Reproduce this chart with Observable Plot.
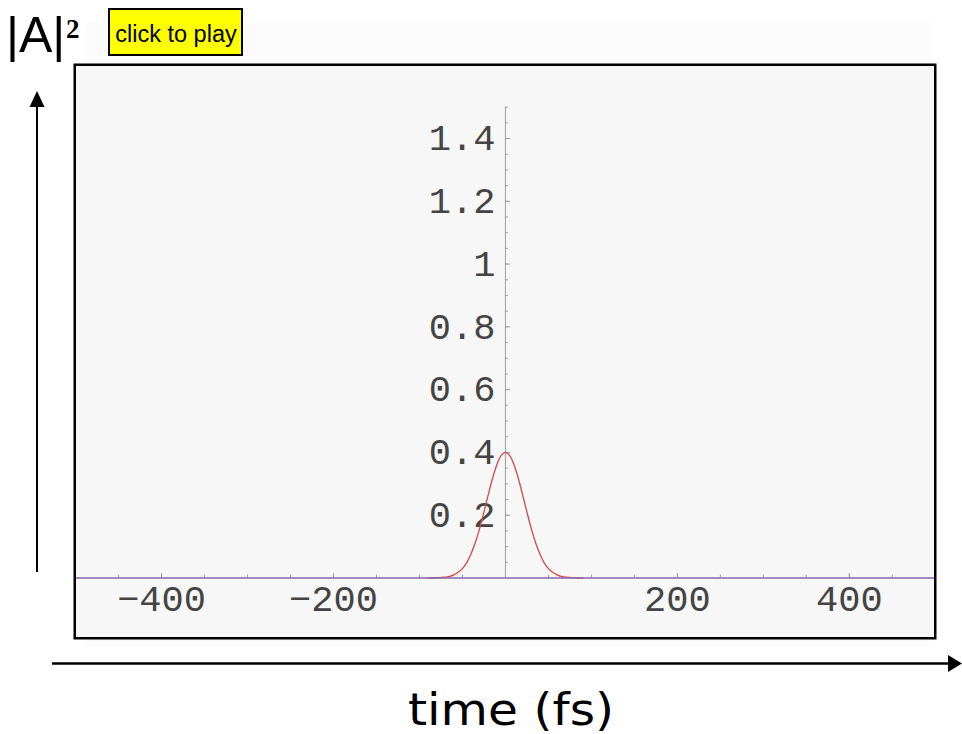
<!DOCTYPE html>
<html>
<head>
<meta charset="utf-8">
<script src="https://cdn.jsdelivr.net/npm/d3@7"></script>
<script src="https://cdn.jsdelivr.net/npm/@observablehq/plot@0.6"></script>
<style>
  body { margin: 0; background: #fff; }
  #stage { position: relative; width: 962px; height: 734px; overflow: hidden; }
  #stage svg { position: absolute; }
</style>
</head>
<body>
<div id="stage"></div>
<script>
// Pulse intensity |A|^2 against time (fs)
const timeFs = [-90, -80, -70, -65, -60, -55, -50, -45, -40, -35, -30, -25, -20, -15, -10, -5,
                0, 5, 10, 15, 20, 25, 30, 35, 40, 45, 50, 55, 60, 65, 70, 80, 90];
const intensity = [0, 0.0005, 0.0025, 0.005, 0.010, 0.018, 0.030, 0.049, 0.077, 0.113, 0.158, 0.210, 0.265, 0.317, 0.361, 0.390,
                   0.400, 0.390, 0.361, 0.317, 0.265, 0.210, 0.158, 0.113, 0.077, 0.049, 0.030, 0.018, 0.010, 0.005, 0.0025, 0.0005, 0];

// Axis labels
const xTickLabels = [-400, -200, 200, 400];
const yTickLabels = [0.2, 0.4, 0.6, 0.8, 1, 1.2, 1.4];
const yAxisTop = 1.5;

// Minor tick positions (every 50 fs and every 0.05)
const xMinorTicks = d3.range(-450, 451, 50).filter(d => d !== 0);
const yMinorTicks = d3.range(1, 31).map(i => i * 0.05);

const pulse = timeFs.map((t, i) => ({t, v: intensity[i]}));

const stage = document.getElementById("stage");

// Decorations around the plot: faint backdrop, axis arrows, titles, play button
const deco = d3.select(stage).append("svg")
  .attr("width", 962).attr("height", 734)
  .style("left", "0px").style("top", "0px");

deco.append("rect").attr("x", 85).attr("y", 23).attr("width", 848).attr("height", 624).attr("fill", "#fcfcfc");

// |A|^2 label
deco.append("text").attr("x", 6).attr("y", 52)
  .attr("font-family", "Liberation Sans, Arial, sans-serif").attr("font-size", 50).attr("fill", "#000")
  .text("|A|");
deco.append("text").attr("x", 66).attr("y", 38)
  .attr("font-family", "Liberation Serif, Times New Roman, serif").attr("font-weight", "bold")
  .attr("font-size", 27).attr("fill", "#000").text("2");

// play button
deco.append("rect").attr("x", 109).attr("y", 9).attr("width", 133).attr("height", 46)
  .attr("fill", "#ffff00").attr("stroke", "#000").attr("stroke-width", 2);
deco.append("text").attr("x", 176).attr("y", 42).attr("text-anchor", "middle")
  .attr("font-family", "Liberation Sans, Arial, sans-serif").attr("font-size", 23.5).attr("fill", "#000")
  .text("click to play");

// vertical arrow
deco.append("line").attr("x1", 37).attr("x2", 37).attr("y1", 572).attr("y2", 104)
  .attr("stroke", "#000").attr("stroke-width", 2);
deco.append("polygon").attr("points", "37,91 29.5,107 44.5,107").attr("fill", "#000");

// horizontal arrow
deco.append("line").attr("x1", 52).attr("x2", 950).attr("y1", 663.5).attr("y2", 663.5)
  .attr("stroke", "#000").attr("stroke-width", 2.5);
deco.append("polygon").attr("points", "962,663.5 948,655 948,672").attr("fill", "#000");

// horizontal axis title
deco.append("text").attr("x", 408).attr("y", 725)
  .attr("font-family", "DejaVu Sans, Verdana, sans-serif").attr("font-size", 44).attr("fill", "#000")
  .attr("textLength", 206).attr("lengthAdjust", "spacingAndGlyphs")
  .text("time (fs)");

const mono = "Liberation Mono, Courier New, monospace";
const fmtX = d => d < 0 ? "\u2212" + Math.abs(d) : String(d);

const chart = Plot.plot({
  width: 863,
  height: 576,
  marginLeft: 1.25, marginRight: 1.25, marginTop: 1.25, marginBottom: 1.25,
  x: {domain: [-501, 500], axis: null},
  y: {domain: [-0.192, 1.635], axis: null},
  style: {background: "#f7f7f7", overflow: "visible"},
  marks: [
    // vertical axis through t = 0
    Plot.ruleX([0], {y1: 0, y2: yAxisTop, stroke: "#a0a0a0", strokeWidth: 1}),
    Plot.ruleY(yMinorTicks, {x1: 0, x2: 3.5, stroke: "#a0a0a0", strokeWidth: 1}),
    Plot.ruleY(yTickLabels, {x1: 0, x2: 6, stroke: "#a0a0a0", strokeWidth: 1}),
    Plot.text(yTickLabels, {x: 0, y: d => d, text: d => String(d), textAnchor: "end", dx: -10,
      fontFamily: mono, fontSize: 37, fill: "#444"}),
    // horizontal axis ticks
    Plot.ruleX(xMinorTicks, {y1: 0, y2: 0.0095, stroke: "#a0a0a0", strokeWidth: 1}),
    Plot.ruleX(xTickLabels, {y1: 0, y2: 0.014, stroke: "#a0a0a0", strokeWidth: 1}),
    Plot.text(xTickLabels, {x: d => d, y: 0, text: fmtX, dy: 21,
      fontFamily: mono, fontSize: 37, fill: "#444"}),
    // pulse
    Plot.line(pulse, {x: "t", y: "v", curve: "catmull-rom", stroke: "#e8494a", strokeWidth: 1.3}),
    Plot.line(pulse, {x: "t", y: "v", curve: "catmull-rom", stroke: "#555", strokeWidth: 0.5, strokeOpacity: 0.35}),
    // baseline
    Plot.ruleY([0], {stroke: "#8466ad", strokeWidth: 1.5}),
    Plot.frame({stroke: "#000", strokeWidth: 2.5})
  ]
});
chart.style.left = "73px";
chart.style.top = "63px";
stage.appendChild(chart);
</script>
</body>
</html>
